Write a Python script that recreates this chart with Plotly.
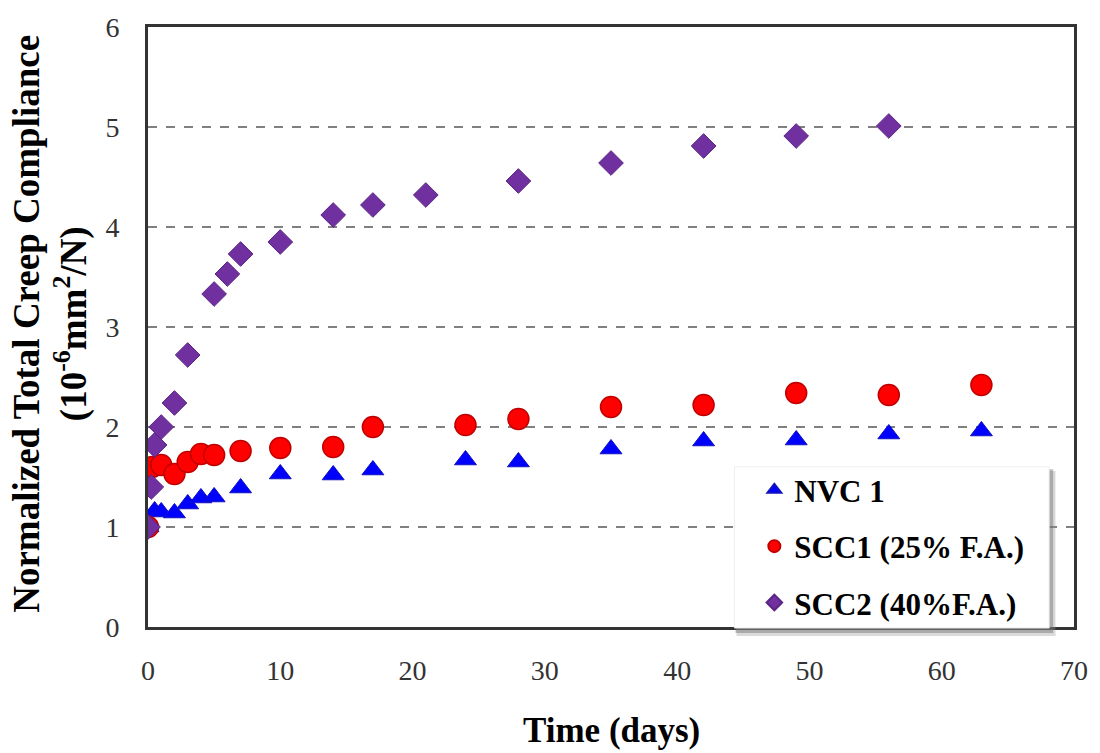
import plotly.graph_objects as go

# NVC 1
nvc_days = [0, 0.5, 1, 2, 3, 4, 5, 7, 10, 14, 17, 24, 28, 35, 42, 49, 56, 63]
nvc_vals = [1.0, 1.16, 1.15, 1.14, 1.23, 1.29, 1.30, 1.39, 1.53, 1.52, 1.57, 1.67, 1.65, 1.78, 1.86, 1.87, 1.93, 1.96]

# SCC1 (25% F.A.)
scc1_days = [0, 0.3, 1, 2, 3, 4, 5, 7, 10, 14, 17, 24, 28, 35, 42, 49, 56, 63]
scc1_vals = [1.0, 1.60, 1.62, 1.53, 1.65, 1.73, 1.72, 1.76, 1.79, 1.80, 2.00, 2.02, 2.08, 2.20, 2.22, 2.34, 2.32, 2.42]

# SCC2 (40% F.A.)
scc2_days = [0, 0.25, 0.5, 1, 2, 3, 5, 6, 7, 10, 14, 17, 21, 28, 35, 42, 49, 56]
scc2_vals = [1.0, 1.40, 1.82, 2.00, 2.24, 2.72, 3.33, 3.53, 3.73, 3.85, 4.12, 4.22, 4.32, 4.46, 4.64, 4.81, 4.91, 5.01]

x_ticks = [0, 10, 20, 30, 40, 50, 60, 70]
y_ticks = [0, 1, 2, 3, 4, 5, 6]

y_title_1 = "Normalized Total Creep Compliance"
y_title_2 = "(10<sup>-6</sup>mm<sup>2</sup>/N)"
x_title = "Time (days)"

FONT = "Liberation Serif, Times New Roman, serif"

fig = go.Figure()
fig.add_trace(go.Scatter(
    x=nvc_days, y=nvc_vals, mode="markers", name="NVC 1", legendgroup="a",
    marker=dict(symbol="triangle-up", size=19, color="#0000FF",
                line=dict(color="#1010C0", width=1)),
))
fig.add_trace(go.Scatter(
    x=scc1_days, y=scc1_vals, mode="markers", name="SCC1 (25% F.A.)", legendgroup="b",
    marker=dict(symbol="circle", size=21, color="#FF0000",
                line=dict(color="#C00000", width=1.5)),
))
fig.add_trace(go.Scatter(
    x=scc2_days, y=scc2_vals, mode="markers", name="SCC2 (40%F.A.)", legendgroup="c",
    marker=dict(symbol="diamond", size=19, color="#7030A0",
                line=dict(color="#5A2585", width=1)),
))

# legend box with soft shadow (paper coords)
fig.add_shape(type="rect", xref="paper", yref="paper",
              x0=0.6355, x1=0.9800, y0=-0.0150, y1=0.2600,
              fillcolor="rgba(150,150,150,0.35)", line=dict(width=0), layer="above")
fig.add_shape(type="rect", xref="paper", yref="paper",
              x0=0.6345, x1=0.9775, y0=-0.0100, y1=0.2630,
              fillcolor="rgba(110,110,110,0.45)", line=dict(width=0), layer="above")
fig.add_shape(type="rect", xref="paper", yref="paper",
              x0=0.6333, x1=0.9731, y0=-0.0016, y1=0.2669,
              fillcolor="white", line=dict(color="#EEEEEE", width=1), layer="above")

fig.add_annotation(text=y_title_1, xref="paper", yref="paper", x=-0.132, y=0.505,
                   xanchor="center", yanchor="middle", textangle=-90, showarrow=False,
                   font=dict(family=FONT, size=37, color="#000000", weight="bold"))
fig.add_annotation(text=y_title_2, xref="paper", yref="paper", x=-0.083, y=0.505,
                   xanchor="center", yanchor="middle", textangle=-90, showarrow=False,
                   font=dict(family=FONT, size=37, color="#000000", weight="bold"))
fig.add_annotation(text=x_title, xref="paper", yref="paper", x=0.5, y=-0.172,
                   xanchor="center", yanchor="middle", showarrow=False,
                   font=dict(family=FONT, size=35, color="#000000", weight="bold"))

fig.update_layout(
    width=1100, height=753,
    margin=dict(l=148, r=22, t=20, b=126),
    paper_bgcolor="white", plot_bgcolor="white",
    font=dict(family=FONT, color="#000000"),
    showlegend=True,
    legend=dict(
        x=0.6548, y=0.273, xanchor="left", yanchor="top",
        bgcolor="rgba(0,0,0,0)", borderwidth=0,
        font=dict(family=FONT, size=31, color="#000000", weight="bold"),
        itemsizing="constant", tracegroupgap=13,
    ),
    xaxis=dict(
        range=[0, 70], tickvals=x_ticks, ticktext=[str(v) for v in x_ticks],
        showgrid=False, zeroline=False,
        showline=True, linecolor="#333333", linewidth=3, mirror=True,
        ticks="", ticklabelstandoff=16,
        tickfont=dict(family=FONT, size=28, color="#333333"),
    ),
    yaxis=dict(
        range=[0, 6], tickvals=y_ticks, ticktext=[str(v) for v in y_ticks],
        showgrid=True, gridcolor="#808080", gridwidth=1.5, griddash="dash",
        zeroline=False,
        showline=True, linecolor="#333333", linewidth=3, mirror=True,
        ticks="", ticklabelstandoff=20,
        tickfont=dict(family=FONT, size=28, color="#333333"),
    ),
)

fig.write_html("out.html", config={"displayModeBar": False},
               post_script="document.body.style.margin='0px';")
